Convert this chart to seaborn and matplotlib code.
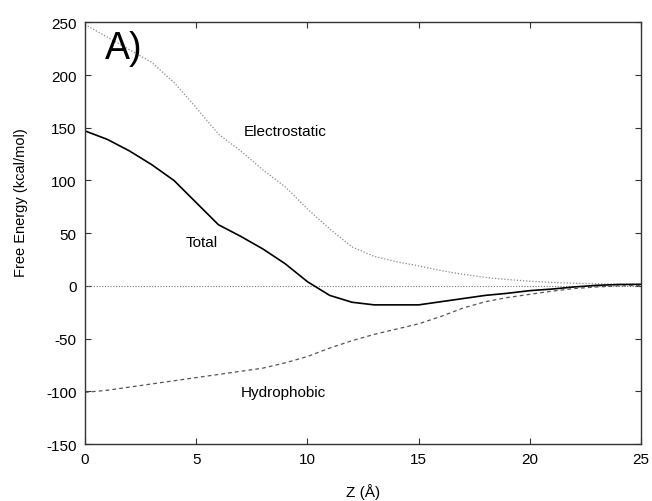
import numpy as np
import pandas as pd
import matplotlib
matplotlib.use("Agg")
import matplotlib.pyplot as plt
import seaborn as sns

# distance along the channel axis (Angstrom)
z = [0, 1, 2, 3, 4, 5, 6, 7, 8, 9, 10, 11, 12, 13, 14, 15, 16, 17, 18, 19, 20, 21, 22, 23, 24, 25]
# free energy components (kcal/mol)
electrostatic = [248, 236, 224, 212, 193, 169, 144, 128, 110, 94, 73, 54, 37, 28, 23, 19,
                 14.5, 11, 8, 6, 4.5, 3.3, 2.5, 2, 1.7, 1.5]
hydrophobic = [-101, -99, -96, -93, -90, -87, -84, -81, -78, -73, -67, -59, -52, -46, -41, -36,
               -29, -21, -15, -11, -8, -5, -2.5, -1, 0, 0.5]
total = [147, 139, 128, 115, 100, 79, 58, 47, 35, 21, 4, -9, -15.5, -18, -18, -18,
         -15, -12, -9, -7, -4.5, -3, -1, 0.5, 1.3, 1.5]

xticks = [0, 5, 10, 15, 20, 25]
yticks = [-150, -100, -50, 0, 50, 100, 150, 200, 250]

df = pd.DataFrame({"z": z, "Electrostatic": electrostatic,
                   "Hydrophobic": hydrophobic, "Total": total})

sns.set_theme(style="ticks")
plt.rcParams["font.family"] = ["Liberation Sans", "DejaVu Sans"]
plt.rcParams["axes.unicode_minus"] = False
plt.rcParams["text.color"] = "black"
plt.rcParams["axes.labelcolor"] = "black"
plt.rcParams["xtick.labelcolor"] = "black"
plt.rcParams["ytick.labelcolor"] = "black"

fig = plt.figure(figsize=(6.52, 5.02), dpi=100)
ax = fig.add_axes([0.1304, 0.1135, 0.8528, 0.840])

# zero line
ax.axhline(0, color="#777777", linewidth=0.8, linestyle=(0, (1, 1.5)), zorder=1)

sns.lineplot(data=df, x="z", y="Electrostatic", ax=ax, color="#888888",
             linewidth=0.9, linestyle=(0, (1, 1.5)))
sns.lineplot(data=df, x="z", y="Total", ax=ax, color="black", linewidth=1.2)
sns.lineplot(data=df, x="z", y="Hydrophobic", ax=ax, color="#555555",
             linewidth=0.9, linestyle=(0, (3, 2.5)))

ax.set_xlim(0, 25)
ax.set_ylim(-150, 250)
ax.set_xticks(xticks)
ax.set_yticks(yticks)
ax.tick_params(direction="in", length=4, width=0.8, color="#333333",
               top=True, right=True, labelsize=11, pad=6)
for s in ax.spines.values():
    s.set_linewidth(1.0)
    s.set_color("#333333")

ax.set_xlabel("Z (Å)", fontsize=11)
ax.set_ylabel("Free Energy (kcal/mol)", fontsize=10.5)
ax.xaxis.set_label_coords(0.5, -0.092)
ax.yaxis.set_label_coords(-0.102, 0.576)

ax.text(9.0, 147, "Electrostatic", fontsize=11, ha="center", va="center")
ax.text(5.24, 41.6, "Total", fontsize=11, ha="center", va="center")
ax.text(8.9, -100.4, "Hydrophobic", fontsize=11, ha="center", va="center")
ax.text(0.9, 226, "A)", fontsize=27, ha="left", va="center")

fig.savefig("out.png", dpi=100)
